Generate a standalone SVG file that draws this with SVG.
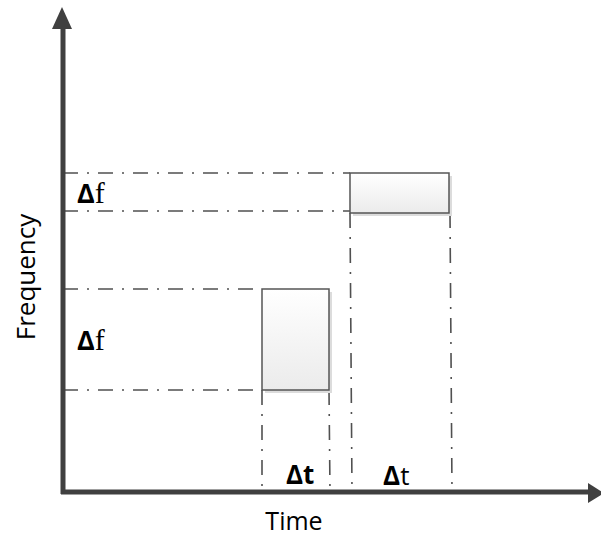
<svg xmlns="http://www.w3.org/2000/svg" width="601" height="538" viewBox="0 0 601 538">
<defs>
<linearGradient id="g" x1="0" y1="0" x2="0" y2="1">
<stop offset="0" stop-color="#ffffff"/>
<stop offset="1" stop-color="#ebebeb"/>
</linearGradient>
<style>
.dd{fill:none;stroke:#505050;stroke-width:1.6;stroke-dasharray:15 9 2 9;}
.box{fill:url(#g);stroke:#555;stroke-width:1.5;}
.sh{fill:#dcdcdc;}
.ax{stroke:#404040;stroke-width:5;fill:none;}
.ah{fill:#404040;}
.lbl{font-family:"Open Sans",sans-serif;fill:#000;}
.b{font-weight:bold;}
.serif{font-family:"Liberation Serif",serif;}
</style>
</defs>
<rect width="601" height="538" fill="#fff"/>
<g id="connectors">
<line class="dd" x1="63" y1="173" x2="350" y2="173"/>
<line class="dd" x1="63" y1="211" x2="350" y2="211"/>
<line class="dd" x1="63" y1="289" x2="262" y2="289"/>
<line class="dd" x1="63" y1="390" x2="262" y2="390"/>
<line class="dd" x1="262" y1="390" x2="262" y2="492"/>
<line class="dd" x1="329" y1="390" x2="330" y2="492"/>
<line class="dd" x1="350" y1="213" x2="352" y2="492"/>
<line class="dd" x1="450" y1="213" x2="452" y2="492"/>
</g>
<g id="box1">
<rect class="sh" x="265" y="292" width="67" height="101"/>
<rect class="box" x="262" y="289" width="67" height="101"/>
</g>
<g id="box2">
<rect class="sh" x="353" y="176" width="99" height="40"/>
<rect class="box" x="350" y="173" width="99" height="40"/>
</g>
<g id="axes">
<line class="ax" x1="63" y1="25" x2="63" y2="494"/>
<polygon class="ah" points="62,7 72,29 52,29"/>
<line class="ax" x1="61" y1="492" x2="592" y2="492"/>
<polygon class="ah" points="604,493 588,483 588,503"/>
</g>
<g id="labels">
<text class="lbl" x="77" y="203" font-size="27"><tspan class="b">Δ</tspan><tspan class="serif" font-size="30">f</tspan></text>
<text class="lbl" x="77" y="350" font-size="27"><tspan class="b">Δ</tspan><tspan class="serif" font-size="30">f</tspan></text>
<text class="lbl b" x="286" y="484" font-size="26">Δt</text>
<text class="lbl" x="383" y="485" font-size="26"><tspan class="b">Δ</tspan><tspan>t</tspan></text>
<text class="lbl" x="294" y="530" font-size="25" text-anchor="middle">Time</text>
<text class="lbl" x="0" y="0" font-size="26" text-anchor="middle" transform="translate(35,277) rotate(-90)">Frequency</text>
</g>
</svg>
